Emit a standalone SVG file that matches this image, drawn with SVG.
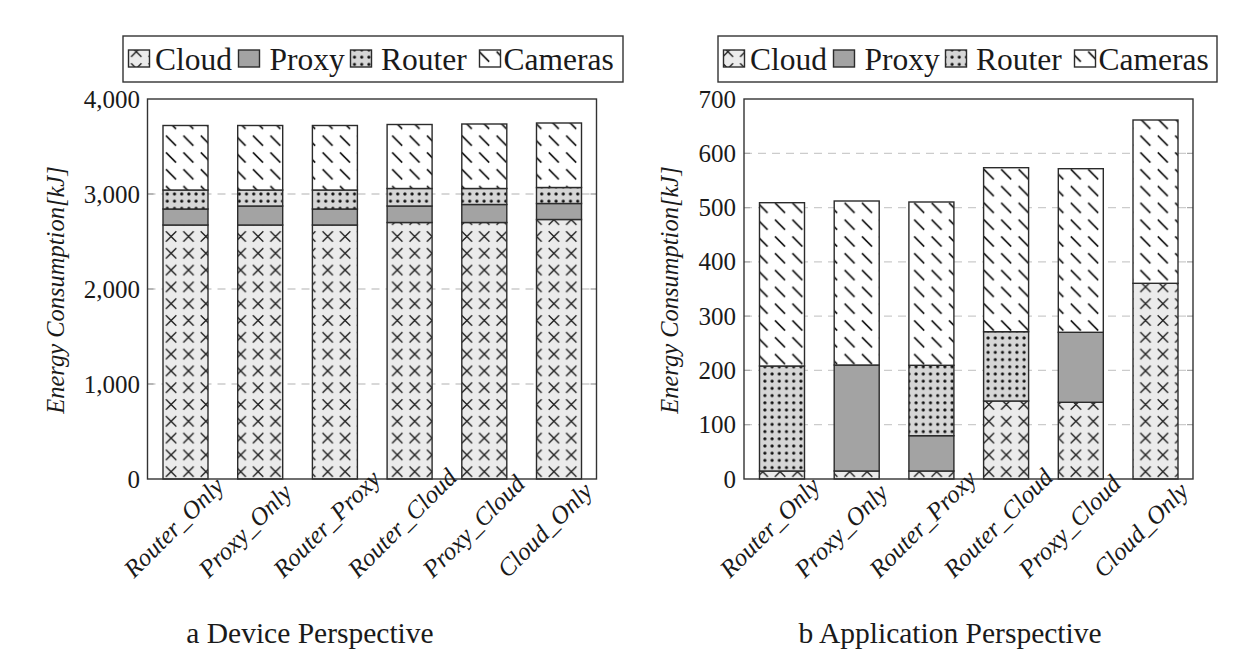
<svg xmlns="http://www.w3.org/2000/svg" width="1255" height="672" viewBox="0 0 1255 672">
<defs>
  <pattern id="pCross" patternUnits="userSpaceOnUse" x="5.8" y="-7.1" width="17.4" height="16.8">
    <rect width="17.4" height="16.8" fill="#ebebeb"/>
    <path d="M3.5,3.2 L13.9,13.6 M13.9,3.2 L3.5,13.6" stroke="#1e1e1e" stroke-width="1.35" fill="none"/>
  </pattern>
  <pattern id="pDots" patternUnits="userSpaceOnUse" x="-1.9" y="3.2" width="7.2" height="7.2">
    <rect width="7.2" height="7.2" fill="#d6d6d6"/>
    <circle cx="3.6" cy="3.6" r="1.6" fill="#111"/>
  </pattern>
  <pattern id="pDiag" patternUnits="userSpaceOnUse" x="5.7" y="-2.1" width="17.4" height="16.8">
    <rect width="17.4" height="16.8" fill="#ffffff"/>
    <path d="M3.7,3.4 L13.7,13.4" stroke="#111" stroke-width="1.6" fill="none"/>
  </pattern>
  <style>
    .frame{fill:none;stroke:#333;stroke-width:1.4}
    .grid{stroke:#cccccc;stroke-width:1.3;stroke-dasharray:8 6}
    .tick{stroke:#aaaaaa;stroke-width:1.3}
    .seg{stroke:#2b2b2b;stroke-width:1.4}
    .cloud{fill:url(#pCross)}
    .proxy{fill:#a3a3a3}
    .router{fill:url(#pDots)}
    .cam{fill:url(#pDiag)}
    .ytl{font-family:"Liberation Serif","Times New Roman",serif;font-size:25px;fill:#1a1a1a;text-anchor:end}
    .xtl{font-family:"Liberation Serif","Times New Roman",serif;font-size:25px;font-style:italic;fill:#1a1a1a;text-anchor:start}
    .ylab{font-family:"Liberation Serif","Times New Roman",serif;font-size:24.5px;font-style:italic;fill:#1a1a1a;text-anchor:middle}
    .leg{font-family:"Liberation Serif","Times New Roman",serif;font-size:31.5px;fill:#1a1a1a}
    .cap{font-family:"Liberation Serif","Times New Roman",serif;font-size:29.5px;fill:#1a1a1a;text-anchor:middle}
    .lbox{fill:#fff;stroke:#333;stroke-width:1.4}
  </style>
</defs>
<rect width="1255" height="672" fill="#ffffff"/>

<!-- ============ Left chart: Device Perspective ============ -->
<g id="legend-a">
  <rect class="lbox" x="123" y="36" width="500" height="46"/>
  <rect class="seg cloud" x="128.5" y="50" width="21" height="17"/>
  <text class="leg" x="155" y="70">Cloud</text>
  <rect class="seg proxy" x="238.5" y="50" width="21" height="17"/>
  <text class="leg" x="269.5" y="70">Proxy</text>
  <rect class="seg router" x="350.5" y="50" width="21" height="17"/>
  <text class="leg" x="381" y="70">Router</text>
  <rect class="seg cam" x="479.5" y="50" width="21" height="17"/>
  <text class="leg" x="503.5" y="70">Cameras</text>
</g>

<g id="axis-a">
  <line class="grid" x1="147.5" y1="384" x2="596.5" y2="384"/>
  <line class="grid" x1="147.5" y1="289" x2="596.5" y2="289"/>
  <line class="grid" x1="147.5" y1="194" x2="596.5" y2="194"/>
  <path class="tick" d="M147.5,384h6M596.5,384h-6M147.5,289h6M596.5,289h-6M147.5,194h6M596.5,194h-6"/>
  <text class="ytl" x="140" y="487.5">0</text>
  <text class="ytl" x="140" y="392.5">1,000</text>
  <text class="ytl" x="140" y="297.5">2,000</text>
  <text class="ytl" x="140" y="202.5">3,000</text>
  <text class="ytl" x="140" y="107.5">4,000</text>
  <text class="ylab" transform="translate(63.5,290) rotate(-90)">Energy Consumption[kJ]</text>
</g>

<g id="bar-a-router-only">
  <rect class="seg cloud" x="163" y="225" width="45" height="254"/>
  <rect class="seg proxy" x="163" y="209" width="45" height="16"/>
  <rect class="seg router" x="163" y="190" width="45" height="19"/>
  <rect class="seg cam" x="163" y="125.5" width="45" height="64.5"/>
</g>
<g id="bar-a-proxy-only">
  <rect class="seg cloud" x="237.7" y="225" width="45" height="254"/>
  <rect class="seg proxy" x="237.7" y="206" width="45" height="19"/>
  <rect class="seg router" x="237.7" y="190" width="45" height="16"/>
  <rect class="seg cam" x="237.7" y="125.5" width="45" height="64.5"/>
</g>
<g id="bar-a-router-proxy">
  <rect class="seg cloud" x="312.4" y="225" width="45" height="254"/>
  <rect class="seg proxy" x="312.4" y="209" width="45" height="16"/>
  <rect class="seg router" x="312.4" y="190" width="45" height="19"/>
  <rect class="seg cam" x="312.4" y="125.5" width="45" height="64.5"/>
</g>
<g id="bar-a-router-cloud">
  <rect class="seg cloud" x="387.1" y="222.5" width="45" height="256.5"/>
  <rect class="seg proxy" x="387.1" y="206" width="45" height="16.5"/>
  <rect class="seg router" x="387.1" y="188.5" width="45" height="17.5"/>
  <rect class="seg cam" x="387.1" y="124.5" width="45" height="64"/>
</g>
<g id="bar-a-proxy-cloud">
  <rect class="seg cloud" x="461.8" y="222.5" width="45" height="256.5"/>
  <rect class="seg proxy" x="461.8" y="204.5" width="45" height="18"/>
  <rect class="seg router" x="461.8" y="188.5" width="45" height="16"/>
  <rect class="seg cam" x="461.8" y="124" width="45" height="64.5"/>
</g>
<g id="bar-a-cloud-only">
  <rect class="seg cloud" x="536.5" y="219.5" width="45" height="259.5"/>
  <rect class="seg proxy" x="536.5" y="203.5" width="45" height="16"/>
  <rect class="seg router" x="536.5" y="187.5" width="45" height="16"/>
  <rect class="seg cam" x="536.5" y="123" width="45" height="64.5"/>
</g>

<g id="frame-a">
  <rect class="frame" x="147.5" y="99" width="449" height="380"/>
  <text class="xtl" transform="translate(134,579) rotate(-45)">Router_Only</text>
  <text class="xtl" transform="translate(208.7,579) rotate(-45)">Proxy_Only</text>
  <text class="xtl" transform="translate(283.4,579) rotate(-45)">Router_Proxy</text>
  <text class="xtl" transform="translate(358.1,579) rotate(-45)">Router_Cloud</text>
  <text class="xtl" transform="translate(432.8,579) rotate(-45)">Proxy_Cloud</text>
  <text class="xtl" transform="translate(507.5,579) rotate(-45)">Cloud_Only</text>
  <text class="cap" x="310" y="643">a Device Perspective</text>
</g>

<!-- ============ Right chart: Application Perspective ============ -->
<g id="legend-b">
  <rect class="lbox" x="718" y="36" width="499" height="46"/>
  <rect class="seg cloud" x="723.5" y="50" width="21" height="17"/>
  <text class="leg" x="750" y="70">Cloud</text>
  <rect class="seg proxy" x="833.5" y="50" width="21" height="17"/>
  <text class="leg" x="864.5" y="70">Proxy</text>
  <rect class="seg router" x="945.5" y="50" width="21" height="17"/>
  <text class="leg" x="976" y="70">Router</text>
  <rect class="seg cam" x="1074.5" y="50" width="21" height="17"/>
  <text class="leg" x="1098.5" y="70">Cameras</text>
</g>

<g id="axis-b">
  <line class="grid" x1="744" y1="424.7" x2="1193" y2="424.7"/>
  <line class="grid" x1="744" y1="370.4" x2="1193" y2="370.4"/>
  <line class="grid" x1="744" y1="316.1" x2="1193" y2="316.1"/>
  <line class="grid" x1="744" y1="261.9" x2="1193" y2="261.9"/>
  <line class="grid" x1="744" y1="207.6" x2="1193" y2="207.6"/>
  <line class="grid" x1="744" y1="153.3" x2="1193" y2="153.3"/>
  <path class="tick" d="M744,424.7h6M1193,424.7h-6M744,370.4h6M1193,370.4h-6M744,316.1h6M1193,316.1h-6M744,261.9h6M1193,261.9h-6M744,207.6h6M1193,207.6h-6M744,153.3h6M1193,153.3h-6"/>
  <text class="ytl" x="736" y="487.5">0</text>
  <text class="ytl" x="736" y="433.2">100</text>
  <text class="ytl" x="736" y="378.9">200</text>
  <text class="ytl" x="736" y="324.6">300</text>
  <text class="ytl" x="736" y="270.4">400</text>
  <text class="ytl" x="736" y="216.1">500</text>
  <text class="ytl" x="736" y="161.8">600</text>
  <text class="ytl" x="736" y="107.5">700</text>
  <text class="ylab" transform="translate(677.5,290) rotate(-90)">Energy Consumption[kJ]</text>
</g>

<g id="bar-b-router-only">
  <rect class="seg cloud" x="759.5" y="471" width="45" height="8"/>
  <rect class="seg router" x="759.5" y="366" width="45" height="105"/>
  <rect class="seg cam" x="759.5" y="202.7" width="45" height="163.3"/>
</g>
<g id="bar-b-proxy-only">
  <rect class="seg cloud" x="834.2" y="471" width="45" height="8"/>
  <rect class="seg proxy" x="834.2" y="365" width="45" height="106"/>
  <rect class="seg cam" x="834.2" y="201" width="45" height="164"/>
</g>
<g id="bar-b-router-proxy">
  <rect class="seg cloud" x="908.9" y="471" width="45" height="8"/>
  <rect class="seg proxy" x="908.9" y="435.7" width="45" height="35.3"/>
  <rect class="seg router" x="908.9" y="365.3" width="45" height="70.4"/>
  <rect class="seg cam" x="908.9" y="202" width="45" height="163.3"/>
</g>
<g id="bar-b-router-cloud">
  <rect class="seg cloud" x="983.6" y="401" width="45" height="78"/>
  <rect class="seg router" x="983.6" y="331.7" width="45" height="69.3"/>
  <rect class="seg cam" x="983.6" y="167.7" width="45" height="164"/>
</g>
<g id="bar-b-proxy-cloud">
  <rect class="seg cloud" x="1058.3" y="402.3" width="45" height="76.7"/>
  <rect class="seg proxy" x="1058.3" y="332.3" width="45" height="70"/>
  <rect class="seg cam" x="1058.3" y="168.7" width="45" height="163.6"/>
</g>
<g id="bar-b-cloud-only">
  <rect class="seg cloud" x="1133" y="283.3" width="45" height="195.7"/>
  <rect class="seg cam" x="1133" y="120" width="45" height="163.3"/>
</g>

<g id="frame-b">
  <rect class="frame" x="744" y="99" width="449" height="380"/>
  <text class="xtl" transform="translate(730,579) rotate(-45)">Router_Only</text>
  <text class="xtl" transform="translate(804.7,579) rotate(-45)">Proxy_Only</text>
  <text class="xtl" transform="translate(879.4,579) rotate(-45)">Router_Proxy</text>
  <text class="xtl" transform="translate(954.1,579) rotate(-45)">Router_Cloud</text>
  <text class="xtl" transform="translate(1028.8,579) rotate(-45)">Proxy_Cloud</text>
  <text class="xtl" transform="translate(1103.5,579) rotate(-45)">Cloud_Only</text>
  <text class="cap" x="950" y="643">b Application Perspective</text>
</g>
</svg>
